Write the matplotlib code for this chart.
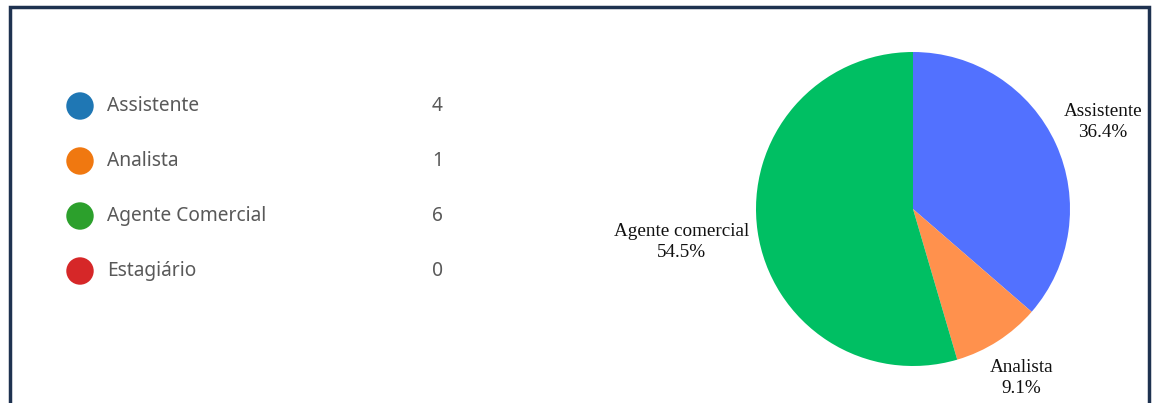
import numpy as np
import matplotlib
matplotlib.use('Agg')
import matplotlib.pyplot as plt
from matplotlib.patches import Rectangle

# legend table (left side)
categories = ['Assistente', 'Analista', 'Agente Comercial', 'Estagiário']
counts = [4, 1, 6, 0]
legend_colors = ['#1f77b4', '#f07810', '#2ca02c', '#d62728']

# pie (right side) - only non-zero slices are drawn
pie_labels = ['Assistente', 'Analista', 'Agente comercial']
pie_values = [4, 1, 6]
pie_colors = ['#5271ff', '#ff914d', '#00bf63']
label_dist = [1.33, 1.28, 1.49]

W, H = 1154, 403
fig = plt.figure(figsize=(W / 100, H / 100), dpi=100)
ax = fig.add_axes([0, 0, 1, 1])
ax.set_xlim(0, W)
ax.set_ylim(0, H)
ax.set_aspect('equal')
ax.axis('off')

# dark frame (bottom edge runs off the image)
ax.add_patch(Rectangle((10, -20), 1139, H - 7 + 20, fill=False,
                       edgecolor='#1e3250', linewidth=2.5))

# legend rows
row_y = H - 106 - 55 * np.arange(len(categories))
ax.scatter(np.full(len(categories), 80), row_y, s=390, c=legend_colors,
           linewidths=0, zorder=3)
for y, name, n in zip(row_y, categories, counts):
    ax.text(107, y, name, fontsize=13.8, family='Noto Sans', color='#595959',
            va='center', ha='left')
    ax.text(443, y, str(n), fontsize=13.8, family='Noto Sans', color='#595959',
            va='center', ha='right')

# pie
cx, cy, r = 913, H - 209, 157
wedges, _ = ax.pie(pie_values, colors=pie_colors, startangle=90,
                   counterclock=False, center=(cx, cy), radius=r,
                   wedgeprops=dict(linewidth=0))
ax.set_xlim(0, W)
ax.set_ylim(0, H)

total = sum(pie_values)
for w, lab, v, d in zip(wedges, pie_labels, pie_values, label_dist):
    ang = np.deg2rad((w.theta1 + w.theta2) / 2)
    x = cx + d * r * np.cos(ang)
    y = cy + d * r * np.sin(ang)
    ax.text(x, y, f'{lab}\n{100 * v / total:.1f}%', ha='center', va='center',
            multialignment='center', fontsize=13.8, family='Liberation Serif',
            color='#111111', linespacing=1.3)

fig.savefig('out.png', dpi=100, facecolor='white')
